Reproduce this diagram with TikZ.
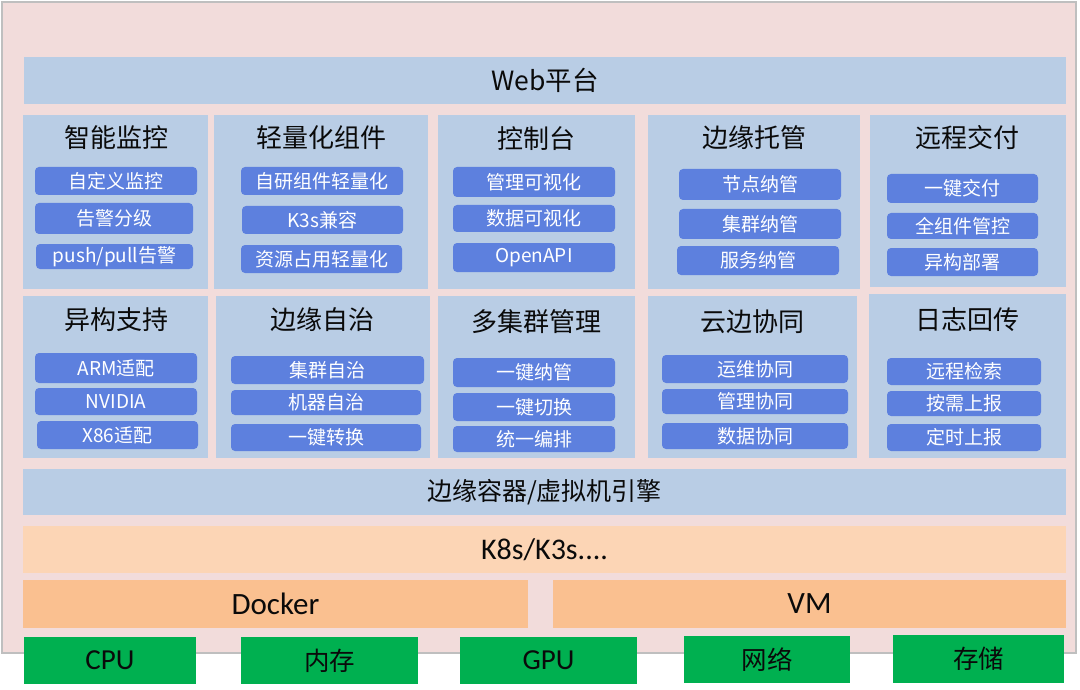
\documentclass[tikz,border=0pt]{standalone}
\usepackage{fontspec}
\setmainfont{Noto Sans CJK SC}
\newfontfamily\calib{Carlito}
\definecolor{outerbg}{HTML}{F2DCDB}
\definecolor{outerln}{HTML}{BFBFBF}
\definecolor{panelbg}{HTML}{B9CDE5}
\definecolor{pillbg}{HTML}{5D80DE}
\definecolor{peach}{HTML}{FCD5B5}
\definecolor{orng}{HTML}{FAC090}
\definecolor{grn}{HTML}{00B050}
\definecolor{ink}{HTML}{0A0A0A}
\tikzset{
  base/.style={inner sep=0pt, outer sep=0pt, anchor=center},
  panelbox/.style={base, fill=panelbg},
  pillbox/.style={base, fill=pillbg, rounded corners=4pt, text=white, font=\fontsize{19}{21}\selectfont},
  ptitle/.style={inner sep=0pt, text=ink, font=\fontsize{26}{29}\selectfont},
  barbox/.style={base, fill=panelbg, text=ink, font=\fontsize{25}{28}\selectfont},
  peachbox/.style={base, fill=peach, text=ink, font=\calib\fontsize{30}{33}\selectfont},
  orngbox/.style={base, fill=orng, text=ink, font=\calib\fontsize{31}{34}\selectfont},
  grnbox/.style={base, fill=grn, text=ink, font=\calib\fontsize{29}{32}\selectfont},
}
% \mkbox{style}{name}{x1}{y1}{x2}{y2}{text}
\newcommand\mkbox[7]{\node[#1, minimum width={(#5-#3)*1pt}, minimum height={(#6-#4)*1pt}] (#2) at ({(#3+#5)/2},{(#4+#6)/2}) {#7};}
\begin{document}
\begin{tikzpicture}[x=1pt,y=-1pt]
\useasboundingbox (0,0) rectangle (1080,690);
\fill[white] (0,0) rectangle (1080,690);
\draw[fill=outerbg, draw=outerln, line width=1.6pt] (2,2) rectangle (1076,653);
% top bar
\mkbox{barbox}{web}{24}{57}{1066}{104}{\fontsize{26.5}{29}\selectfont Web平台}
% row 1 panels
\mkbox{panelbox}{pa}{23}{115}{208}{289}{}
\mkbox{panelbox}{pb}{214}{115}{428}{289}{}
\mkbox{panelbox}{pc}{438}{115}{635}{289}{}
\mkbox{panelbox}{pd}{648}{115}{860}{289}{}
\mkbox{panelbox}{pe}{870}{115}{1066}{287}{}
\node[ptitle] (ta) at (116,138) {智能监控};
\node[ptitle] (tb) at (321,138) {轻量化组件};
\node[ptitle] (tc) at (536,139) {控制台};
\node[ptitle] (td) at (754,138) {边缘托管};
\node[ptitle] (te) at (967,138) {远程交付};
\mkbox{pillbox}{a1}{35}{167}{197}{195}{自定义监控}
\mkbox{pillbox}{a2}{35}{203}{193}{234}{告警分级}
\mkbox{pillbox}{a3}{36}{244}{193}{269}{push/pull告警}
\mkbox{pillbox}{b1}{241}{167}{403}{195}{自研组件轻量化}
\mkbox{pillbox}{b2}{242}{206}{403}{234}{K3s兼容}
\mkbox{pillbox}{b3}{241}{245}{402}{273}{资源占用轻量化}
\mkbox{pillbox}{c1}{453}{167}{615}{197}{管理可视化}
\mkbox{pillbox}{c2}{453}{205}{615}{232}{数据可视化}
\mkbox{pillbox}{c3}{453}{243}{615}{272}{OpenAPI}
\mkbox{pillbox}{d1}{679}{169}{841}{200}{节点纳管}
\mkbox{pillbox}{d2}{679}{209}{841}{239}{集群纳管}
\mkbox{pillbox}{d3}{677}{246}{839}{275}{服务纳管}
\mkbox{pillbox}{e1}{887}{174}{1038}{203}{一键交付}
\mkbox{pillbox}{e2}{887}{213}{1038}{239}{全组件管控}
\mkbox{pillbox}{e3}{887}{248}{1038}{276}{异构部署}
% row 2 panels
\mkbox{panelbox}{pf}{23}{296}{208}{458}{}
\mkbox{panelbox}{pg}{216}{296}{430}{458}{}
\mkbox{panelbox}{ph}{438}{296}{635}{458}{}
\mkbox{panelbox}{pi}{648}{296}{857}{458}{}
\mkbox{panelbox}{pj}{869}{294}{1066}{458}{}
\node[ptitle] (tf) at (116,320) {异构支持};
\node[ptitle] (tg) at (322,320) {边缘自治};
\node[ptitle] (th) at (536,322) {多集群管理};
\node[ptitle] (ti) at (752,322) {云边协同};
\node[ptitle] (tj) at (967,320) {日志回传};
\mkbox{pillbox}{f1}{35}{353}{197}{383}{ARM适配}
\mkbox{pillbox}{f2}{35}{388}{197}{415}{NVIDIA}
\mkbox{pillbox}{f3}{37}{421}{198}{449}{X86适配}
\mkbox{pillbox}{g1}{231}{356}{424}{384}{集群自治}
\mkbox{pillbox}{g2}{231}{390}{421}{415}{机器自治}
\mkbox{pillbox}{g3}{231}{424}{421}{451}{一键转换}
\mkbox{pillbox}{h1}{453}{358}{615}{387}{一键纳管}
\mkbox{pillbox}{h2}{453}{393}{615}{421}{一键切换}
\mkbox{pillbox}{h3}{453}{426}{615}{452}{统一编排}
\mkbox{pillbox}{i1}{662}{355}{848}{383}{运维协同}
\mkbox{pillbox}{i2}{662}{389}{848}{414}{管理协同}
\mkbox{pillbox}{i3}{662}{423}{848}{449}{数据协同}
\mkbox{pillbox}{j1}{887}{358}{1041}{385}{远程检索}
\mkbox{pillbox}{j2}{887}{391}{1041}{416}{按需上报}
\mkbox{pillbox}{j3}{887}{424}{1041}{451}{定时上报}
% lower bars
\mkbox{barbox}{engine}{23}{469}{1066}{515}{边缘容器/虚拟机引擎}
\mkbox{peachbox}{k8s}{23}{526}{1066}{573}{K8s/K3s....}
\mkbox{orngbox}{docker}{23}{580}{528}{628}{Docker}
\mkbox{orngbox}{vm}{553}{580}{1066}{628}{VM}
% hardware
\mkbox{grnbox}{cpu}{24}{637}{196}{684}{CPU}
\mkbox{grnbox}{mem}{241}{637}{418}{684}{\rmfamily\fontsize{25.5}{28}\selectfont 内存}
\mkbox{grnbox}{gpu}{460}{637}{637}{684}{GPU}
\mkbox{grnbox}{net}{684}{636}{850}{683}{\rmfamily\fontsize{25.5}{28}\selectfont 网络}
\mkbox{grnbox}{sto}{893}{635}{1064}{683}{\rmfamily\fontsize{25.5}{28}\selectfont 存储}
\end{tikzpicture}
\end{document}
